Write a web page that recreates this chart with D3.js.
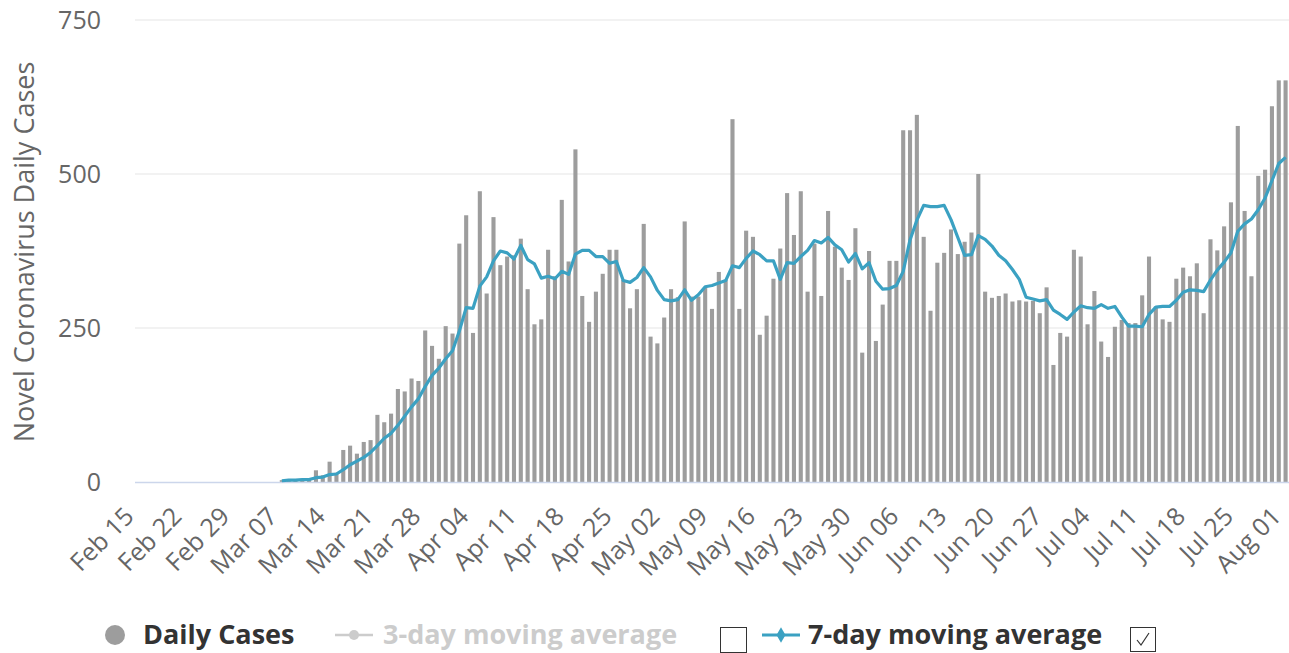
<!DOCTYPE html>
<html><head><meta charset="utf-8">
<script src="https://cdn.jsdelivr.net/npm/d3@7"></script>
<style>
body{margin:0;background:#fff}
svg{display:block}
text{font-family:"Open Sans",sans-serif}
</style>
</head><body>
<svg id="chart" width="1289" height="653"></svg>
<script>
// ---- data ----
const startDay = "2020-02-15";
const dayCount = 169; // Feb 15 .. Aug 01
const tickLabels = ["Feb 15","Feb 22","Feb 29","Mar 07","Mar 14","Mar 21","Mar 28","Apr 04","Apr 11","Apr 18","Apr 25","May 02","May 09","May 16","May 23","May 30","Jun 06","Jun 13","Jun 20","Jun 27","Jul 04","Jul 11","Jul 18","Jul 25","Aug 01"];
const yTicks = [0, 250, 500, 750];

const dailyCases = [
  0,0,0,0,0,0,0,0,0,0, 0,0,0,0,0,0,0,0,0,0,
  0,3,2,3,4,6,19,11,33,15, 52,59,46,65,68,109,97,111,151,147,
  168,164,246,221,200,253,241,387,433,242, 472,306,430,352,366,368,395,313,256,264,
  377,334,458,358,540,302,260,309,338,377, 377,328,282,313,419,236,225,267,313,300,
  423,301,301,315,281,341,328,589,281,408, 398,239,270,330,379,469,401,472,309,387,
  302,440,382,348,328,412,210,375,229,288, 359,359,571,571,596,398,278,356,372,410,
  370,390,405,500,309,299,302,306,293,295, 293,294,274,316,190,242,236,377,366,256,
  310,228,203,252,263,258,258,303,366,285, 264,260,330,348,334,355,274,394,376,415,
  454,578,440,334,497,507,610,652,652
];

// 7-day moving average as drawn (starts Mar 07)
const avg7 = [
  null,null,null,null,null,null,null,null,null,null, null,null,null,null,null,null,null,null,null,null,
  null,2,3,3,4,4,7,8,12,13, 20,28,34,40,48,59,71,79,92,107,
  122,135,155,173,185,200,213,245,283,282, 318,333,359,375,372,362,384,361,354,331,
  334,330,342,337,370,376,376,366,366,355, 358,327,324,332,348,333,311,296,294,296,
  312,295,304,317,319,323,327,351,348,363, 375,369,359,359,329,356,355,366,376,392,
  388,397,385,377,357,371,346,356,326,313, 314,319,342,393,425,449,447,447,449,426,
  397,368,369,400,394,383,368,359,345,329, 300,297,294,296,279,272,264,276,286,283,
  282,288,282,285,268,253,253,252,272,284, 285,285,295,308,312,311,309,328,344,357,
  372,407,419,427,442,461,489,517,527
];

// ---- chart ----
const svg = d3.select("#chart");
const parse = d3.timeParse("%Y-%m-%d");
const fmt = d3.timeFormat("%b %d");
const days = d3.timeDay.range(parse(startDay), d3.timeDay.offset(parse(startDay), dayCount));

const x = d3.scaleBand().domain(days.map(fmt)).range([135, 1289]).paddingInner(0.4).paddingOuter(0.2);
const y = d3.scaleLinear().domain([0, 750]).range([482, 20]);
const bw = x.bandwidth();
const cx = d => x(d) + bw / 2;

// gridlines
svg.append("g").selectAll("line").data(yTicks.filter(t => t > 0)).join("line")
  .attr("x1", 135).attr("x2", 1289)
  .attr("y1", d => y(d)).attr("y2", d => y(d))
  .attr("stroke", "#e6e6e6").attr("stroke-width", 1.2);

// y axis labels
const yAxis = d3.axisLeft(y).tickValues(yTicks).tickSize(0).tickPadding(0);
const gy = svg.append("g").attr("transform", "translate(101,0)").call(yAxis);
gy.select(".domain").remove();
gy.selectAll("text").attr("font-size", 25).attr("fill", "#666").attr("font-family", "Open Sans").attr("dy", "0.35em");

// y title
svg.append("text")
  .attr("transform", "translate(34,252) rotate(-90)")
  .attr("text-anchor", "middle")
  .attr("font-size", 27).attr("fill", "#666")
  .text("Novel Coronavirus Daily Cases");

// bars
svg.append("g").selectAll("rect").data(dailyCases).join("rect")
  .attr("x", (d, i) => x(fmt(days[i])))
  .attr("width", bw)
  .attr("y", d => y(d))
  .attr("height", d => y(0) - y(d))
  .attr("fill", "#9d9d9d");

// baseline
svg.append("line").attr("x1", 135).attr("x2", 1289).attr("y1", y(0) + 0.5).attr("y2", y(0) + 0.5)
  .attr("stroke", "#ccd6eb").attr("stroke-width", 1.5);

// x axis labels
const xAxis = d3.axisBottom(x)
  .tickValues(tickLabels)
  .tickSize(0).tickPadding(0);
const gx = svg.append("g").attr("transform", "translate(0,482)").call(xAxis);
gx.select(".domain").remove();
gx.selectAll("text")
  .attr("font-size", 25).attr("fill", "#666").attr("font-family", "Open Sans")
  .attr("text-anchor", "end")
  .attr("dy", null)
  .attr("y", 0)
  .attr("transform", "translate(-3,36) rotate(-45)");

// 7-day line
const line = d3.line()
  .defined(d => d != null)
  .x((d, i) => cx(fmt(days[i])))
  .y(d => y(d));
svg.append("path").datum(avg7)
  .attr("d", line)
  .attr("fill", "none").attr("stroke", "#3ba1c2").attr("stroke-width", 3.2).attr("stroke-linejoin", "round");

// legend
const lg = svg.append("g");
const fs = 27;
lg.append("circle").attr("cx", 115).attr("cy", 635).attr("r", 10).attr("fill", "#9d9d9d");
lg.append("text").attr("x", 143).attr("y", 644).attr("font-size", fs).attr("font-weight", "bold").attr("fill", "#333").text("Daily Cases");

lg.append("line").attr("x1", 335).attr("x2", 373).attr("y1", 635).attr("y2", 635).attr("stroke", "#cccccc").attr("stroke-width", 2.5);
lg.append("circle").attr("cx", 354).attr("cy", 635).attr("r", 5).attr("fill", "#cccccc");
lg.append("text").attr("x", 383).attr("y", 644).attr("font-size", fs).attr("font-weight", "bold").attr("fill", "#cccccc").text("3-day moving average");

lg.append("rect").attr("x", 720.5).attr("y", 627.5).attr("width", 26).attr("height", 25).attr("fill", "#fff").attr("stroke", "#333").attr("stroke-width", 1);

lg.append("line").attr("x1", 762).attr("x2", 800).attr("y1", 635).attr("y2", 635).attr("stroke", "#3ba1c2").attr("stroke-width", 3);
lg.append("path").attr("d", d3.symbol(d3.symbolDiamond, 70)()).attr("transform", "translate(781,635)").attr("fill", "#3ba1c2");
lg.append("text").attr("x", 808).attr("y", 644).attr("font-size", fs).attr("font-weight", "bold").attr("fill", "#333").text("7-day moving average");

lg.append("rect").attr("x", 1130.5).attr("y", 627.5).attr("width", 25).attr("height", 24).attr("fill", "#fff").attr("stroke", "#333").attr("stroke-width", 1);
lg.append("path").attr("d", "M1137,640 L1141,645 L1149,633").attr("fill", "none").attr("stroke", "#333").attr("stroke-width", 1.2);
</script>
</body></html>
